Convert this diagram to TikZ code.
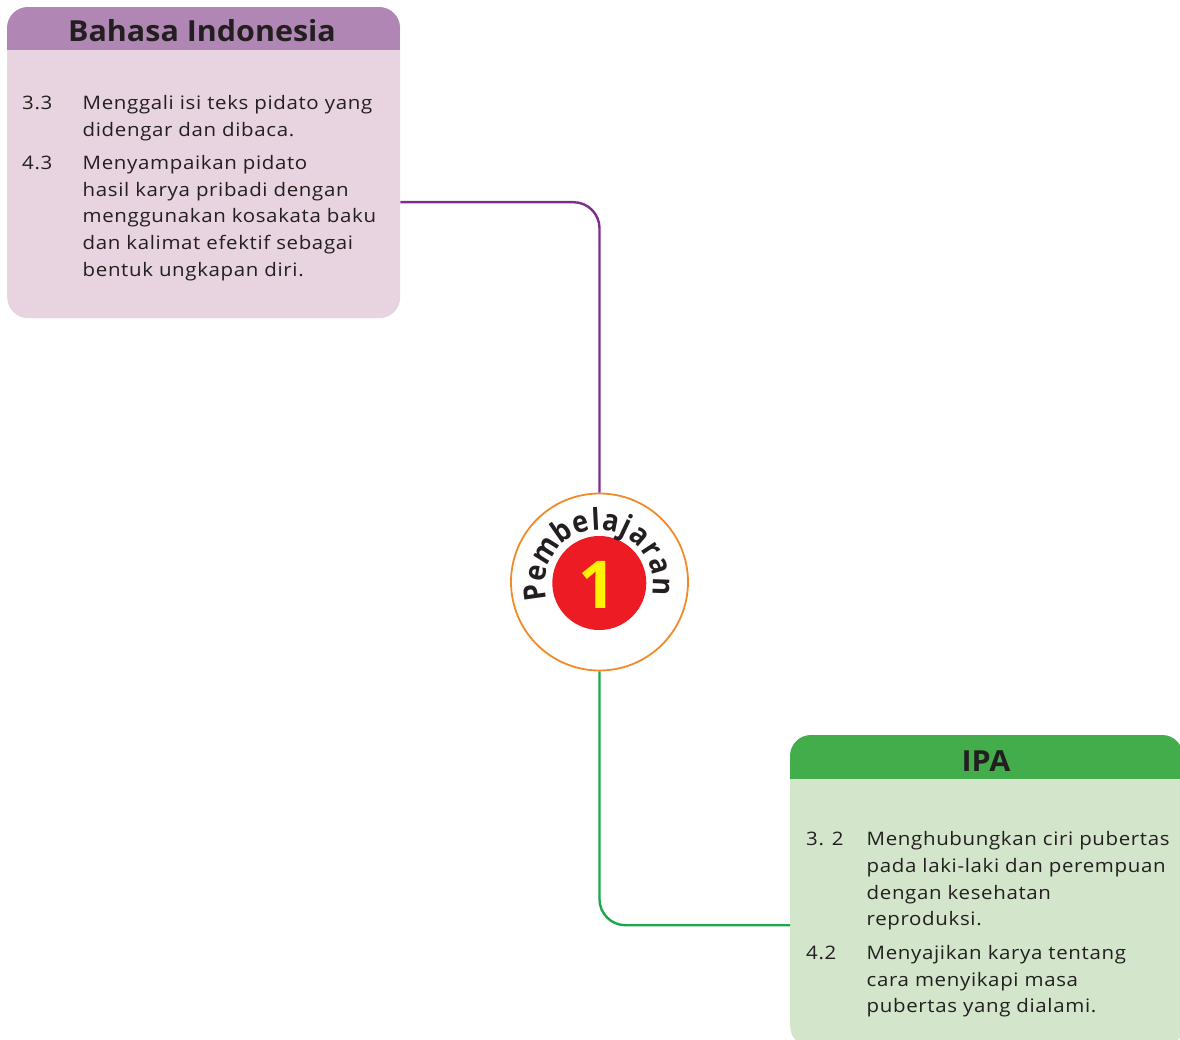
\documentclass[tikz,border=0pt]{standalone}
\usepackage{fontspec}
\setmainfont{Open Sans}[FakeStretch=1.1, LetterSpace=3.5]
\newfontfamily\badgefont{Open Sans}
\newfontfamily\letterfont{Open Sans}[FakeStretch=0.9]
\newfontfamily\titlefont{Open Sans}[FakeStretch=1.05]
\usetikzlibrary{calc}
\definecolor{bihead}{HTML}{B087B4}
\definecolor{bibody}{HTML}{E8D3E1}
\definecolor{ipahead}{HTML}{42AD4A}
\definecolor{ipabody}{HTML}{D3E5CB}
\definecolor{purpleline}{HTML}{7D2E8D}
\definecolor{greenline}{HTML}{1CA74B}
\definecolor{ringorange}{HTML}{F28A2A}
\definecolor{redc}{HTML}{ED1C24}
\definecolor{yel}{HTML}{FFF200}
\definecolor{txt}{HTML}{231F20}
\begin{document}
\begin{tikzpicture}[x=1pt,y=-1pt,
  boxbody/.style={rounded corners=21pt, inner sep=0pt, anchor=north west},
  titletext/.style={font=\titlefont\fontsize{29}{30}\selectfont\bfseries, text=txt, inner sep=0pt, anchor=base},
  numtext/.style={font=\fontsize{18.6}{26.7}\selectfont, text=txt, inner sep=0pt, anchor=north west},
  itemtext/.style={font=\fontsize{18.6}{26.7}\selectfont, text=txt, inner sep=0pt, anchor=north west, align=left},
  conn/.style={line width=2.4pt, rounded corners=26pt},
  letter/.style={font=\letterfont\fontsize{30}{30}\selectfont\bfseries, text=txt, inner sep=0pt, anchor=base}
]
\useasboundingbox (0,0) rectangle (1180,1040);

% ---------- Bahasa Indonesia box ----------
\node[boxbody, fill=bibody, minimum width=393pt, minimum height=311pt] (bi) at (7,7) {};
\begin{scope}
  \clip[rounded corners=21pt] (7,7) rectangle (400,318);
  \fill[bihead] (7,7) rectangle (400,50);
\end{scope}
\node[titletext] (bititle) at (202,41.7) {Bahasa Indonesia};
\node[numtext] (bin1) at (22,95.5) {3.3};
\node[itemtext] (bit1) at (82.5,95) {Menggali isi teks pidato yang\\didengar dan dibaca.};
\node[numtext] (bin2) at (22,155.5) {4.3};
\node[itemtext] (bit2) at (82.5,155) {Menyampaikan pidato\\hasil karya pribadi dengan\\menggunakan kosakata baku\\dan kalimat efektif sebagai\\bentuk ungkapan diri.};

% ---------- IPA box ----------
\node[boxbody, fill=ipabody, minimum width=393pt, minimum height=312pt] (ipa) at (790,735) {};
\begin{scope}
  \clip[rounded corners=21pt] (790,735) rectangle (1183,1047);
  \fill[ipahead] (790,735) rectangle (1183,779);
\end{scope}
\node[titletext] (ipatitle) at (986,771.7) {IPA};
\node[numtext] (ipan1) at (806,832) {3. 2};
\node[itemtext] (ipat1) at (866.5,831.5) {Menghubungkan ciri pubertas\\pada laki-laki dan perempuan\\dengan kesehatan\\reproduksi.};
\node[numtext] (ipan2) at (806,945.5) {4.2};
\node[itemtext] (ipat2) at (866.5,945) {Menyajikan karya tentang\\cara menyikapi masa\\pubertas yang dialami.};

% ---------- centre badge ----------
\node[circle, draw=ringorange, line width=1.8pt, fill=white, minimum size=177pt, inner sep=0pt] (ring) at (599.5,582) {};
\node[circle, fill=redc, minimum size=94pt, inner sep=0pt] (red) at (599.3,583) {};
\node[font=\badgefont\fontsize{66}{66}\selectfont\bfseries, text=yel, inner sep=0pt, anchor=base] (one) at (597,608.5) {1};

\foreach \ch/\ang [count=\i] in {P/188, e/169.8, m/147.8, b/125.1, e/106.9, l/92.9, a/78.9, j/64.7, a/49.5, r/33, a/16.5, n/-2}{
  \node[letter, rotate=\ang-90] (l\i) at ({599+54*cos(\ang)},{584-54*sin(\ang)}) {\ch};
}

% ---------- connectors ----------
\coordinate (bistart) at ([yshift=-39.5pt]bi.east);
\draw[conn, draw=purpleline] (bistart) -| (ring.north);
\coordinate (ipaend) at ([yshift=-34pt]ipa.west);
\draw[conn, draw=greenline] (ring.south) |- (ipaend);
\end{tikzpicture}
\end{document}
